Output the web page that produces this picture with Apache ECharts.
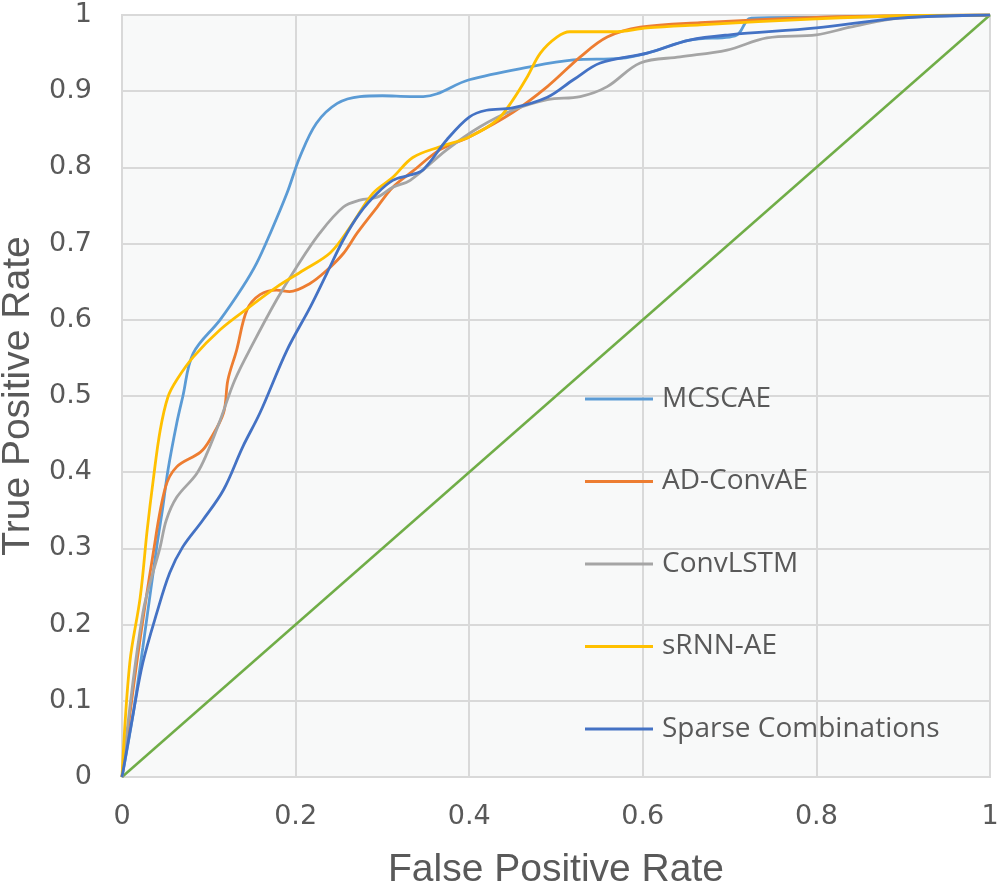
<!DOCTYPE html>
<html><head><meta charset="utf-8">
<script src="https://cdn.jsdelivr.net/npm/echarts@6/dist/echarts.min.js"></script>
<style>html,body{margin:0;padding:0;background:#fff}#c{width:1000px;height:892px}</style>
</head><body><div id="c"></div>
<script>
const xTicks = [0, 0.2, 0.4, 0.6, 0.8, 1];
const yTicks = [0, 0.1, 0.2, 0.3, 0.4, 0.5, 0.6, 0.7, 0.8, 0.9, 1];
const seriesNames = ['MCSCAE', 'AD-ConvAE', 'ConvLSTM', 'sRNN-AE', 'Sparse Combinations'];

const mcscaeFpr = [0, 0.013, 0.024, 0.04, 0.047, 0.053, 0.063, 0.07, 0.082, 0.113, 0.139, 0.155, 0.171, 0.19, 0.205, 0.224, 0.248, 0.274, 0.30, 0.332, 0.347, 0.40, 0.47, 0.52, 0.574, 0.605, 0.654, 0.70, 0.71, 0.725, 0.8, 0.9, 1];
const mcscaeTpr = [0, 0.084, 0.17, 0.302, 0.354, 0.403, 0.464, 0.499, 0.556, 0.60, 0.643, 0.674, 0.714, 0.766, 0.814, 0.858, 0.884, 0.893, 0.894, 0.893, 0.893, 0.915, 0.932, 0.941, 0.943, 0.95, 0.967, 0.971, 0.975, 0.996, 0.997, 0.998, 1];

const adFpr = [0, 0.017, 0.036, 0.05, 0.063, 0.09, 0.101, 0.117, 0.122, 0.132, 0.144, 0.159, 0.178, 0.193, 0.217, 0.236, 0.255, 0.271, 0.294, 0.312, 0.335, 0.366, 0.40, 0.45, 0.49, 0.528, 0.559, 0.597, 0.666, 0.8, 0.9, 1];
const adTpr = [0, 0.15, 0.294, 0.38, 0.407, 0.426, 0.442, 0.478, 0.521, 0.56, 0.613, 0.633, 0.639, 0.637, 0.648, 0.665, 0.687, 0.714, 0.748, 0.774, 0.795, 0.823, 0.84, 0.872, 0.906, 0.945, 0.971, 0.984, 0.99, 0.997, 0.999, 1];

const convFpr = [0, 0.024, 0.044, 0.051, 0.063, 0.086, 0.098, 0.113, 0.13, 0.151, 0.178, 0.201, 0.228, 0.255, 0.274, 0.294, 0.312, 0.332, 0.374, 0.412, 0.45, 0.49, 0.528, 0.559, 0.597, 0.643, 0.697, 0.743, 0.80, 0.839, 0.896, 1];
const convTpr = [0, 0.215, 0.302, 0.337, 0.367, 0.398, 0.425, 0.468, 0.521, 0.569, 0.626, 0.669, 0.714, 0.748, 0.757, 0.761, 0.774, 0.783, 0.823, 0.853, 0.875, 0.889, 0.893, 0.906, 0.937, 0.945, 0.954, 0.97, 0.974, 0.984, 0.996, 1];

const srnnFpr = [0, 0.009, 0.021, 0.029, 0.036, 0.044, 0.053, 0.063, 0.082, 0.113, 0.147, 0.178, 0.209, 0.24, 0.263, 0.289, 0.312, 0.335, 0.366, 0.40, 0.432, 0.45, 0.467, 0.482, 0.501, 0.516, 0.566, 0.605, 0.666, 0.8, 0.9, 1];
const srnnTpr = [0, 0.15, 0.236, 0.324, 0.39, 0.455, 0.499, 0.521, 0.551, 0.587, 0.617, 0.643, 0.665, 0.688, 0.722, 0.766, 0.787, 0.813, 0.827, 0.84, 0.862, 0.888, 0.919, 0.95, 0.971, 0.978, 0.978, 0.983, 0.987, 0.995, 0.999, 1];

const sparseFpr = [0, 0.013, 0.024, 0.04, 0.055, 0.07, 0.093, 0.117, 0.139, 0.159, 0.19, 0.217, 0.236, 0.255, 0.274, 0.294, 0.312, 0.332, 0.347, 0.374, 0.40, 0.42, 0.45, 0.49, 0.52, 0.551, 0.605, 0.654, 0.70, 0.80, 0.896, 1];
const sparseTpr = [0, 0.084, 0.15, 0.215, 0.268, 0.302, 0.337, 0.377, 0.433, 0.478, 0.56, 0.617, 0.661, 0.705, 0.74, 0.766, 0.783, 0.79, 0.797, 0.836, 0.866, 0.875, 0.878, 0.892, 0.915, 0.937, 0.95, 0.967, 0.974, 0.983, 0.996, 1];

const chanceFpr = [0, 1];
const chanceTpr = [0, 1];

const colors = ['#5B9BD5', '#ED7D31', '#A5A5A5', '#FFC000', '#4472C4'];
const pairs = [[mcscaeFpr, mcscaeTpr], [adFpr, adTpr], [convFpr, convTpr], [srnnFpr, srnnTpr], [sparseFpr, sparseTpr]];
const zip = (a, b) => a.map((v, i) => [v, b[i]]);
const fmt = v => String(+v.toFixed(1));

const chart = echarts.init(document.getElementById('c'));
const series = [{
  name: 'Chance', type: 'line', data: zip(chanceFpr, chanceTpr), symbol: 'none',
  lineStyle: { color: '#70AD47', width: 2.5 }, itemStyle: { color: '#70AD47' }, silent: true
}];
seriesNames.forEach((n, i) => {
  series.push({
    name: n, type: 'line', data: zip(pairs[i][0], pairs[i][1]), symbol: 'none', smooth: 0.35,
    lineStyle: { color: colors[i], width: 2.8 }, itemStyle: { color: colors[i] }
  });
});
chart.setOption({
  animation: false,
  backgroundColor: '#ffffff',
  grid: { left: 122, right: 10, top: 15, bottom: 115, containLabel: false, outerBoundsMode: 'none', show: true, backgroundColor: '#f8f9f9', borderColor: '#d9d9d9', borderWidth: 2 },
  legend: {
    data: seriesNames, orient: 'vertical', left: 585, top: 384, itemGap: 52.5, padding: 0,
    itemWidth: 68, itemHeight: 3, icon: 'rect',
    textStyle: { fontFamily: 'Open Sans', fontSize: 28, lineHeight: 30, color: '#595959', padding: [0, 0, 0, 4] }
  },
  xAxis: {
    type: 'value', min: 0, max: 1, interval: 0.2,
    name: 'False Positive Rate', nameLocation: 'middle', nameGap: 74,
    nameTextStyle: { fontFamily: 'Liberation Sans', fontSize: 39, color: '#595959' },
    axisLine: { show: false }, axisTick: { show: false },
    axisLabel: { fontFamily: 'DejaVu Sans', fontSize: 27, color: '#595959', margin: 26, formatter: fmt },
    splitLine: { lineStyle: { color: '#d9d9d9', width: 2 } }
  },
  yAxis: {
    type: 'value', min: 0, max: 1, interval: 0.1,
    name: 'True Positive Rate', nameLocation: 'middle', nameGap: 82,
    nameTextStyle: { fontFamily: 'Liberation Sans', fontSize: 39, color: '#595959' },
    axisLine: { show: false }, axisTick: { show: false },
    axisLabel: { fontFamily: 'DejaVu Sans', fontSize: 27, color: '#595959', margin: 30, formatter: fmt },
    splitLine: { lineStyle: { color: '#d9d9d9', width: 2 } }
  },
  series: series
});
</script>
</body></html>
